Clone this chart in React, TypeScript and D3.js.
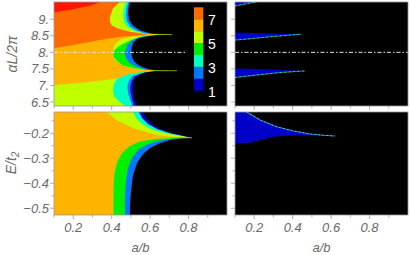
import React from 'react';
import * as d3 from 'd3';

type Pt = [number, number];

// colour of each count level, 0 (black) .. 8 (red)
const levelColors = ['#000000', '#0000c8', '#0078ff', '#00ffc0', '#00f000', '#c0ff00', '#ffb400', '#ff6a00', '#ff1400'];
const legendLevels = [1, 2, 3, 4, 5, 6, 7];
const legendLabels = [1, 3, 5, 7];

const abDomain: Pt = [0.1, 1.0];
const alphaDomain: Pt = [6.38, 9.52];
const energyDomain: Pt = [-0.527, -0.115];

const abTicks = [0.1, 0.2, 0.3, 0.4, 0.5, 0.6, 0.7, 0.8, 0.9];
const abLabels = [0.2, 0.4, 0.6, 0.8];
const alphaTicks = [6.5, 7, 7.5, 8, 8.5, 9];
const alphaTickLabels = ['6.5', '7.', '7.5', '8.', '8.5', '9.'];
const energyTicks = [-0.5, -0.45, -0.4, -0.35, -0.3, -0.25, -0.2, -0.15];
const energyLabels = [-0.5, -0.4, -0.3, -0.2];
const alphaCut = 8;

// ---- top left: stripes on the left, bounded above by these edges
const alphaBaseLevel = 5;
const alphaStripeLevels = [6, 7, 8];
const alphaStripeEdges: Pt[][] = [
  [[0.1, 7.01], [0.2, 7.06], [0.3, 7.12], [0.4, 7.19], [0.5, 7.3], [0.6, 7.41], [0.65, 7.445]],
  [[0.1, 8.12], [0.2, 8.22], [0.339, 8.37], [0.443, 8.47], [0.584, 8.53], [0.64, 8.54]],
  [[0.1, 9.2], [0.2, 9.3], [0.3, 9.43], [0.34, 9.52]],
];

// lobes (top, middle, bottom): layers from outside in
const alphaLobeLevels = [[5, 3, 2], [5, 4, 2], [3, 2, 1]];
const alphaLobeEdges: Pt[][][] = [
  [
    [[0.443, 9.52], [0.407, 9.32], [0.391, 9.07], [0.391, 8.92], [0.4, 8.82], [0.433, 8.72], [0.495, 8.62], [0.563, 8.57], [0.636, 8.55]],
    [[0.475, 9.52], [0.464, 9.33], [0.461, 9.12], [0.464, 8.94], [0.48, 8.79], [0.511, 8.67], [0.563, 8.58], [0.636, 8.55]],
    [[0.487, 9.52], [0.478, 9.33], [0.475, 9.12], [0.48, 8.94], [0.495, 8.79], [0.527, 8.67], [0.573, 8.58], [0.636, 8.55]],
  ],
  [
    [[0.678, 8.52], [0.573, 8.5], [0.495, 8.46], [0.454, 8.4], [0.428, 8.31], [0.412, 8.19], [0.407, 8.01], [0.412, 7.82], [0.428, 7.7], [0.469, 7.58], [0.537, 7.49], [0.652, 7.45]],
    [[0.652, 8.52], [0.573, 8.49], [0.521, 8.42], [0.485, 8.33], [0.454, 8.24], [0.428, 8.14], [0.41, 8.03], [0.408, 7.95], [0.412, 7.85], [0.428, 7.73], [0.459, 7.6], [0.521, 7.51], [0.625, 7.45]],
    [[0.625, 8.52], [0.547, 8.46], [0.506, 8.36], [0.482, 8.23], [0.472, 8.07], [0.469, 7.98], [0.474, 7.83], [0.49, 7.7], [0.521, 7.58], [0.573, 7.48], [0.641, 7.45]],
  ],
  [
    [[0.652, 7.43], [0.547, 7.4], [0.48, 7.33], [0.433, 7.22], [0.412, 7.07], [0.407, 6.86], [0.412, 6.68], [0.428, 6.58], [0.449, 6.47], [0.469, 6.38]],
    [[0.625, 7.43], [0.558, 7.38], [0.511, 7.29], [0.49, 7.16], [0.482, 6.98], [0.485, 6.77], [0.495, 6.59], [0.503, 6.47], [0.506, 6.38]],
    [[0.625, 7.43], [0.563, 7.37], [0.521, 7.27], [0.503, 7.13], [0.497, 6.95], [0.499, 6.77], [0.506, 6.59], [0.511, 6.47], [0.514, 6.38]],
  ],
];
const alphaBlackEdge: Pt[] = [
  [0.495, 9.52], [0.487, 9.33], [0.486, 9.15], [0.492, 8.97], [0.511, 8.8], [0.547, 8.67], [0.6, 8.58], [0.652, 8.55], [0.714, 8.54],
  [0.652, 8.53], [0.573, 8.47], [0.532, 8.4], [0.511, 8.28], [0.504, 8.13], [0.503, 8.01], [0.506, 7.85], [0.516, 7.73], [0.542, 7.6],
  [0.579, 7.51], [0.625, 7.455], [0.74, 7.445], [0.625, 7.435], [0.573, 7.39], [0.537, 7.31], [0.516, 7.19], [0.511, 7.01], [0.511, 6.8],
  [0.516, 6.62], [0.524, 6.47], [0.532, 6.38],
];
const alphaSpikeY = [8.54, 7.445];
const alphaSpikeFrom = [0.58, 0.6];
const alphaSpikeTo = [0.714, 0.74];

// ---- top right: thin dark blue wedges
const alphaWedgeUpper: Pt[][] = [
  [[0.1, 9.52], [0.213, 9.52]],
  [[0.1, 8.6], [0.23, 8.58], [0.447, 8.55]],
  [[0.1, 7.51], [0.282, 7.48], [0.464, 7.44]],
];
const alphaWedgeLower: Pt[][] = [
  [[0.1, 9.4], [0.16, 9.47], [0.213, 9.52]],
  [[0.1, 8.37], [0.178, 8.41], [0.282, 8.47], [0.386, 8.52], [0.447, 8.55]],
  [[0.1, 7.24], [0.204, 7.31], [0.334, 7.39], [0.464, 7.44]],
];

// ---- bottom left
const energyBaseLevel = 6;
const energyUpperEdge: Pt[] = [[0.374, -0.115], [0.426, -0.147], [0.513, -0.18], [0.634, -0.207], [0.738, -0.216], [0.818, -0.218]];
const energyLobeLevels = [3, 1, 4, 2];
const energyLobeEdges: Pt[][] = [
  [[0.511, -0.115], [0.527, -0.139], [0.558, -0.163], [0.61, -0.185], [0.688, -0.201], [0.782, -0.213], [0.818, -0.218]],
  [[0.542, -0.115], [0.558, -0.139], [0.589, -0.163], [0.636, -0.183], [0.704, -0.2], [0.792, -0.214], [0.818, -0.218]],
  [[0.818, -0.218], [0.704, -0.219], [0.625, -0.223], [0.547, -0.233], [0.495, -0.251], [0.454, -0.279], [0.428, -0.315], [0.415, -0.355], [0.41, -0.407], [0.409, -0.467], [0.409, -0.527]],
  [[0.818, -0.218], [0.73, -0.221], [0.652, -0.229], [0.589, -0.243], [0.537, -0.267], [0.506, -0.299], [0.485, -0.339], [0.475, -0.387], [0.469, -0.447], [0.469, -0.527]],
];
const energyBlackEdge: Pt[] = [
  [0.563, -0.115], [0.579, -0.139], [0.61, -0.163], [0.652, -0.183], [0.714, -0.199], [0.782, -0.211], [0.818, -0.218],
  [0.756, -0.221], [0.704, -0.227], [0.652, -0.239], [0.6, -0.259], [0.563, -0.283], [0.532, -0.319], [0.511, -0.367],
  [0.501, -0.427], [0.495, -0.487], [0.495, -0.527],
];
const energySpike: Pt[] = [[0.7, -0.218], [0.818, -0.218]];

// ---- bottom right
const energyWedgeUpper: Pt[] = [[0.1, -0.115], [0.161, -0.115], [0.23, -0.147], [0.317, -0.174], [0.404, -0.191], [0.49, -0.203], [0.559, -0.208], [0.62, -0.211]];
const energyWedgeLower: Pt[] = [[0.1, -0.241], [0.178, -0.238], [0.23, -0.227], [0.3, -0.214], [0.386, -0.209], [0.49, -0.208], [0.62, -0.211]];

const font = "'Liberation Sans', Arial, sans-serif";
const axisGray = '#9a9a9a';
const textGray = '#6a6a6a';

type Scale = d3.ScaleLinear<number, number>;

const line = d3.line();
const closed = (pts: Pt[], x: Scale, y: Scale) => line(pts.map(([a, b]) => [x(a), y(b)] as Pt)) + 'Z';
const open = (pts: Pt[], x: Scale, y: Scale) => line(pts.map(([a, b]) => [x(a), y(b)] as Pt)) || '';
const toRight = (pts: Pt[]): Pt[] => [...pts, [abDomain[1], pts[pts.length - 1][1]], [abDomain[1], pts[0][1]]];
const above = (pts: Pt[], top: number): Pt[] => [...pts, [abDomain[1], pts[pts.length - 1][1]], [abDomain[1], top], [pts[0][0], top]];

function Panel({ id, x, y, children }: { id: string; x: Scale; y: Scale; children: React.ReactNode }) {
  const [x0, x1] = x.range();
  const [y1, y0] = y.range();
  return (
    <g>
      <clipPath id={id}>
        <rect x={x0} y={y0} width={x1 - x0} height={y1 - y0} />
      </clipPath>
      <rect x={x0} y={y0} width={x1 - x0} height={y1 - y0} fill="#000" />
      <g clipPath={`url(#${id})`}>{children}</g>
      <rect x={x0} y={y0} width={x1 - x0} height={y1 - y0} fill="none" stroke={axisGray} strokeWidth={0.8} />
    </g>
  );
}

function XAxis({ x, y, labels }: { x: Scale; y: Scale; labels: boolean }) {
  const yb = y.range()[0];
  return (
    <g>
      {abTicks.map(t => {
        const major = abLabels.some(l => Math.abs(l - t) < 1e-6);
        return <line key={t} x1={x(t)} x2={x(t)} y1={yb} y2={yb + (major ? 4 : 2.5)} stroke={axisGray} strokeWidth={0.8} />;
      })}
      {labels && abLabels.map(t => (
        <text key={t} x={x(t)} y={yb + 17} textAnchor="middle" fontFamily={font} fontStyle="italic" fontSize={13} fill={textGray}>
          {t.toFixed(1)}
        </text>
      ))}
      {labels && (
        <text x={(x.range()[0] + x.range()[1]) / 2} y={yb + 37} textAnchor="middle" fontFamily={font} fontStyle="italic" fontSize={13} fill={textGray}>
          a/b
        </text>
      )}
    </g>
  );
}

function YAxis({ x, y, ticks, majors, labels }: { x: Scale; y: Scale; ticks: number[]; majors: number[]; labels?: string[] }) {
  const xl = x.range()[0];
  return (
    <g>
      {ticks.map(t => {
        const major = majors.some(m => Math.abs(m - t) < 1e-6);
        return <line key={t} x1={xl} x2={xl - (major ? 4 : 2.5)} y1={y(t)} y2={y(t)} stroke={axisGray} strokeWidth={0.8} />;
      })}
      {labels && majors.map((t, i) => (
        <text key={t} x={xl - 5} y={y(t)} dy="0.35em" textAnchor="end" fontFamily={font} fontStyle="italic" fontSize={13} fill={textGray}>
          {labels[i]}
        </text>
      ))}
    </g>
  );
}

export default function App() {
  const xL = d3.scaleLinear().domain(abDomain).range([54, 227]);
  const xR = d3.scaleLinear().domain(abDomain).range([235, 408]);
  const yA = d3.scaleLinear().domain(alphaDomain).range([106, 2]);
  const yE = d3.scaleLinear().domain(energyDomain).range([215, 112]);
  const legend = d3.scaleLinear().domain([0, 7]).range([90.7, 7.3]);

  const energyLabelText = energyLabels.map(v => '\u2212' + Math.abs(v).toFixed(1));

  return (
    <svg width={411} height={255} style={{ position: 'absolute', left: 0, top: 0 }}>
      <rect width={411} height={255} fill="#fff" />

      {/* top left */}
      <Panel id="tl" x={xL} y={yA}>
        <rect x={xL(abDomain[0])} y={yA(alphaDomain[1])} width={xL(abDomain[1]) - xL(abDomain[0])} height={yA(alphaDomain[0]) - yA(alphaDomain[1])} fill={levelColors[alphaBaseLevel]} />
        {alphaStripeEdges.map((e, i) => (
          <path key={i} d={closed(above(e, alphaDomain[1]), xL, yA)} fill={levelColors[alphaStripeLevels[i]]} />
        ))}
        {alphaLobeEdges.map((lobe, i) => lobe.map((e, j) => (
          <path key={`${i}-${j}`} d={closed(toRight(e), xL, yA)} fill={levelColors[alphaLobeLevels[i][j]]} />
        )))}
        <path d={closed(toRight(alphaBlackEdge), xL, yA)} fill="#000" />
        {alphaSpikeY.map((s, i) => (
          <line key={i} x1={xL(alphaSpikeFrom[i])} x2={xL(alphaSpikeTo[i])} y1={yA(s)} y2={yA(s)} stroke={levelColors[5]} strokeWidth={0.7} strokeOpacity={0.85} />
        ))}
        <line x1={xL(abDomain[0])} x2={xL(0.79)} y1={yA(alphaCut)} y2={yA(alphaCut)} stroke="#e6e6e6" strokeWidth={1} strokeDasharray="4,2,1.5,2" />
        {legendLevels.map(v => (
          <rect key={v} x={194} width={9.3} y={legend(v)} height={legend(v - 1) - legend(v)} fill={levelColors[v]} />
        ))}
        {legendLabels.map(v => (
          <text key={v} x={208} y={legend(v - 1) + 1} dy="0.36em" fontFamily={font} fontSize={14} fill="#fff">{v}</text>
        ))}
      </Panel>

      {/* top right */}
      <Panel id="tr" x={xR} y={yA}>
        {alphaWedgeUpper.map((u, i) => (
          <path key={i} d={closed([...u, ...alphaWedgeLower[i].slice().reverse()], xR, yA)} fill={levelColors[1]} />
        ))}
        {alphaWedgeLower.map((l, i) => (
          <g key={i}>
            <path d={open(l, xR, yA)} fill="none" stroke={levelColors[3]} strokeWidth={0.8} strokeOpacity={0.7} />
            <path d={open(l, xR, yA)} fill="none" stroke={levelColors[5]} strokeWidth={0.6} strokeDasharray="1.5,3" />
          </g>
        ))}
        <line x1={xR(abDomain[0])} x2={xR(abDomain[1])} y1={yA(alphaCut)} y2={yA(alphaCut)} stroke="#e6e6e6" strokeWidth={1} strokeDasharray="4,2,1.5,2" />
      </Panel>

      {/* bottom left */}
      <Panel id="bl" x={xL} y={yE}>
        <rect x={xL(abDomain[0])} y={yE(energyDomain[1])} width={xL(abDomain[1]) - xL(abDomain[0])} height={yE(energyDomain[0]) - yE(energyDomain[1])} fill={levelColors[energyBaseLevel]} />
        <path d={closed(above(energyUpperEdge, energyDomain[1]), xL, yE)} fill={levelColors[5]} />
        {energyLobeEdges.map((e, i) => (
          <path key={i} d={closed(toRight(e), xL, yE)} fill={levelColors[energyLobeLevels[i]]} />
        ))}
        <path d={closed(toRight(energyBlackEdge), xL, yE)} fill="#000" />
        <path d={open(energySpike, xL, yE)} stroke="#d0a000" strokeWidth={0.9} fill="none" />
      </Panel>

      {/* bottom right */}
      <Panel id="br" x={xR} y={yE}>
        <path d={closed([...energyWedgeUpper, ...energyWedgeLower.slice().reverse()], xR, yE)} fill={levelColors[1]} />
        <path d={open(energyWedgeUpper.slice(1), xR, yE)} fill="none" stroke={levelColors[2]} strokeWidth={1.1} />
        <path d={open(energyWedgeUpper.slice(1), xR, yE)} fill="none" stroke={levelColors[5]} strokeWidth={0.6} strokeDasharray="2,2" />
      </Panel>

      <XAxis x={xL} y={yA} labels={false} />
      <XAxis x={xR} y={yA} labels={false} />
      <XAxis x={xL} y={yE} labels={true} />
      <XAxis x={xR} y={yE} labels={true} />
      <YAxis x={xL} y={yA} ticks={alphaTicks} majors={alphaTicks} labels={alphaTickLabels} />
      <YAxis x={xR} y={yA} ticks={alphaTicks} majors={alphaTicks} />
      <YAxis x={xL} y={yE} ticks={energyTicks} majors={energyLabels} labels={energyLabelText} />
      <YAxis x={xR} y={yE} ticks={energyTicks} majors={energyLabels} />

      <text transform="translate(17,54) rotate(-90)" textAnchor="middle" fontFamily={font} fontStyle="italic" fontSize={14} fill={textGray}>
        αL/2π
      </text>
      <text transform="translate(16,163) rotate(-90)" textAnchor="middle" fontFamily={font} fontStyle="italic" fontSize={14} fill={textGray}>
        E/t<tspan fontSize={10} dy="3">2</tspan>
      </text>
    </svg>
  );
}
